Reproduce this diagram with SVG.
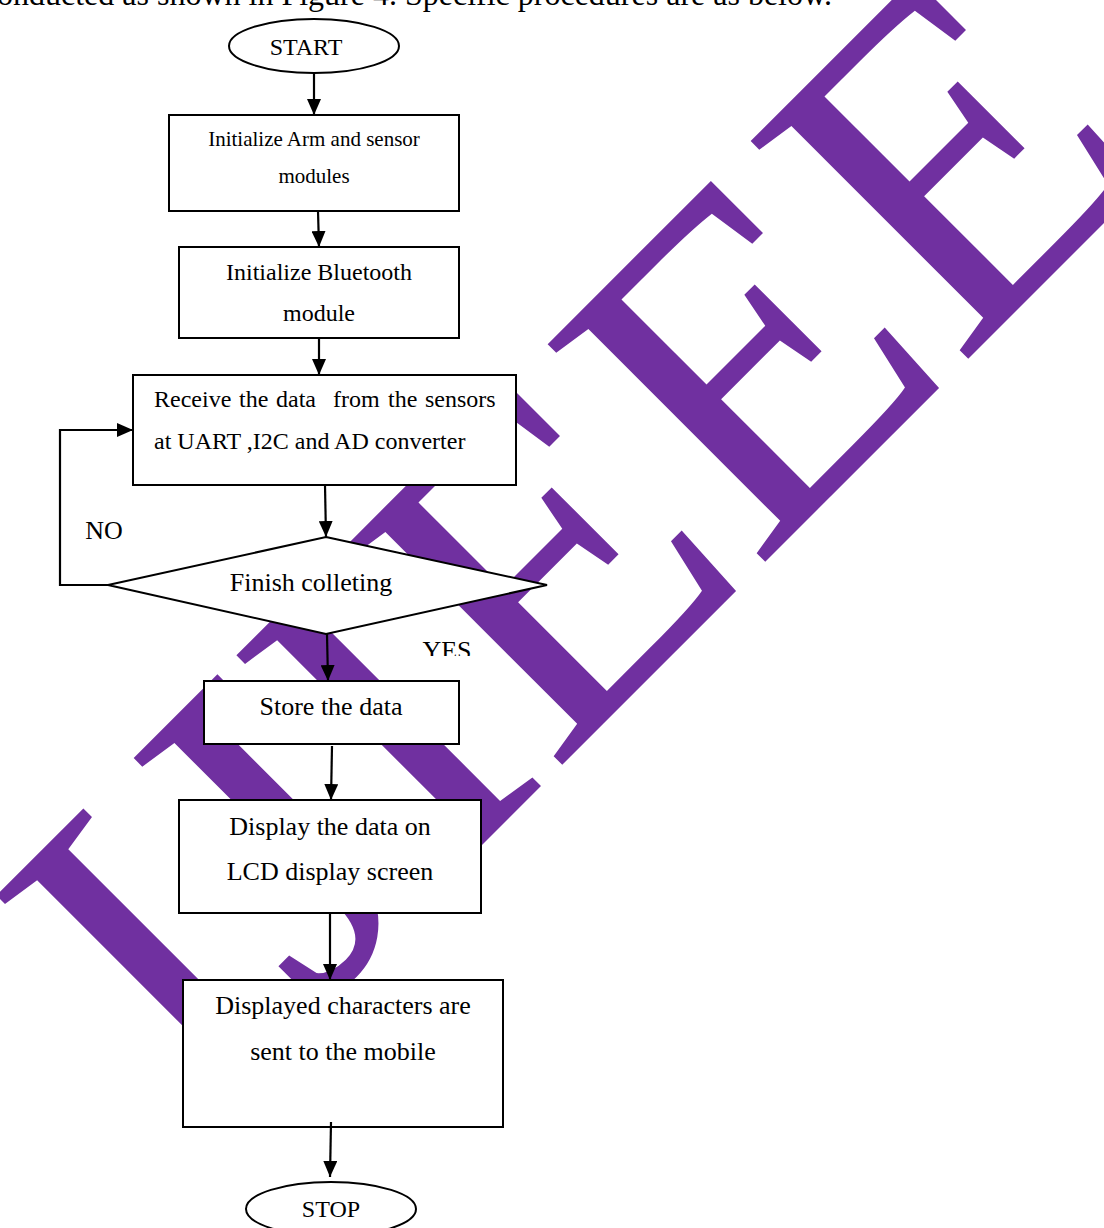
<svg xmlns="http://www.w3.org/2000/svg" width="1104" height="1228" viewBox="0 0 1104 1228">
<defs>
<style>
.t{font-family:"Liberation Serif","Times New Roman",serif;fill:#000}
.box{fill:#fff;stroke:#000;stroke-width:2}
.ln{fill:none;stroke:#000;stroke-width:2.2}
.wm{font-family:"Liberation Serif","Times New Roman",serif;fill:#7030A0}
</style>
<marker id="ah" markerWidth="16" markerHeight="14" refX="16" refY="7" orient="auto" markerUnits="userSpaceOnUse">
<path d="M0,0 L16,7 L0,14 z" fill="#000"/>
</marker>
<clipPath id="yesclip"><rect x="400" y="600" width="120" height="56"/></clipPath>
</defs>
<rect width="1104" height="1228" fill="#fff"/>
<text class="t" x="-3" y="5" font-size="32">onducted as shown in Figure 4. Specific procedures are as below.</text>
<g id="watermark">
<text class="wm" x="202" y="1125" font-size="470" transform="rotate(-45 202 1125)">IJIEEE</text>
</g>
<g id="start">
<ellipse class="box" cx="314" cy="46" rx="85" ry="27"/>
<text class="t" x="306" y="55" font-size="24" text-anchor="middle">START</text>
</g>
<g id="init-arm">
<rect class="box" x="169" y="115" width="290" height="96"/>
<text class="t" x="314" y="146" font-size="21" text-anchor="middle">Initialize Arm and sensor</text>
<text class="t" x="314" y="183" font-size="21" text-anchor="middle">modules</text>
</g>
<g id="init-bt">
<rect class="box" x="179" y="247" width="280" height="91"/>
<text class="t" x="319" y="280" font-size="24" text-anchor="middle">Initialize Bluetooth</text>
<text class="t" x="319" y="321" font-size="24" text-anchor="middle">module</text>
</g>
<g id="receive">
<rect class="box" x="133" y="375" width="383" height="110"/>
<text class="t" y="407" font-size="24"><tspan x="154">Receive</tspan><tspan x="239">the</tspan><tspan x="276">data</tspan><tspan x="333">from</tspan><tspan x="388">the</tspan><tspan x="425">sensors</tspan></text>
<text class="t" x="154" y="449" font-size="24">at UART ,I2C and AD converter</text>
</g>
<g id="finish">
<polygon class="box" points="326,537 547,585 326,634 108,585"/>
<text class="t" x="311" y="591" font-size="26" text-anchor="middle">Finish colleting</text>
</g>
<g id="store">
<rect class="box" x="204" y="681" width="255" height="63"/>
<text class="t" x="331" y="715" font-size="26" text-anchor="middle">Store the data</text>
</g>
<g id="display">
<rect class="box" x="179" y="800" width="302" height="113"/>
<text class="t" x="330" y="835" font-size="26" text-anchor="middle">Display the data on</text>
<text class="t" x="330" y="880" font-size="26" text-anchor="middle">LCD display screen</text>
</g>
<g id="send">
<rect class="box" x="183" y="980" width="320" height="147"/>
<text class="t" x="343" y="1014" font-size="26" text-anchor="middle">Displayed characters are</text>
<text class="t" x="343" y="1060" font-size="26" text-anchor="middle">sent to the mobile</text>
</g>
<g id="stop">
<ellipse class="box" cx="331" cy="1209" rx="85" ry="27"/>
<text class="t" x="331" y="1217" font-size="24" text-anchor="middle">STOP</text>
</g>
<g id="connectors">
<line class="ln" x1="314" y1="73" x2="314" y2="115" marker-end="url(#ah)"/>
<line class="ln" x1="318" y1="211" x2="319" y2="247" marker-end="url(#ah)"/>
<line class="ln" x1="319" y1="338" x2="319" y2="375" marker-end="url(#ah)"/>
<line class="ln" x1="325" y1="485" x2="326" y2="537" marker-end="url(#ah)"/>
<polyline class="ln" points="108,585 60,585 60,430 133,430" marker-end="url(#ah)"/>
<line class="ln" x1="327" y1="634" x2="328" y2="681" marker-end="url(#ah)"/>
<line class="ln" x1="332" y1="746" x2="331" y2="800" marker-end="url(#ah)"/>
<line class="ln" x1="330" y1="913" x2="330" y2="980" marker-end="url(#ah)"/>
<line class="ln" x1="331" y1="1122" x2="330" y2="1177" marker-end="url(#ah)"/>
<text class="t" x="104" y="539" font-size="26" text-anchor="middle">NO</text>
<text class="t" x="447" y="659" font-size="26" text-anchor="middle" clip-path="url(#yesclip)">YES</text>
</g>
</svg>
